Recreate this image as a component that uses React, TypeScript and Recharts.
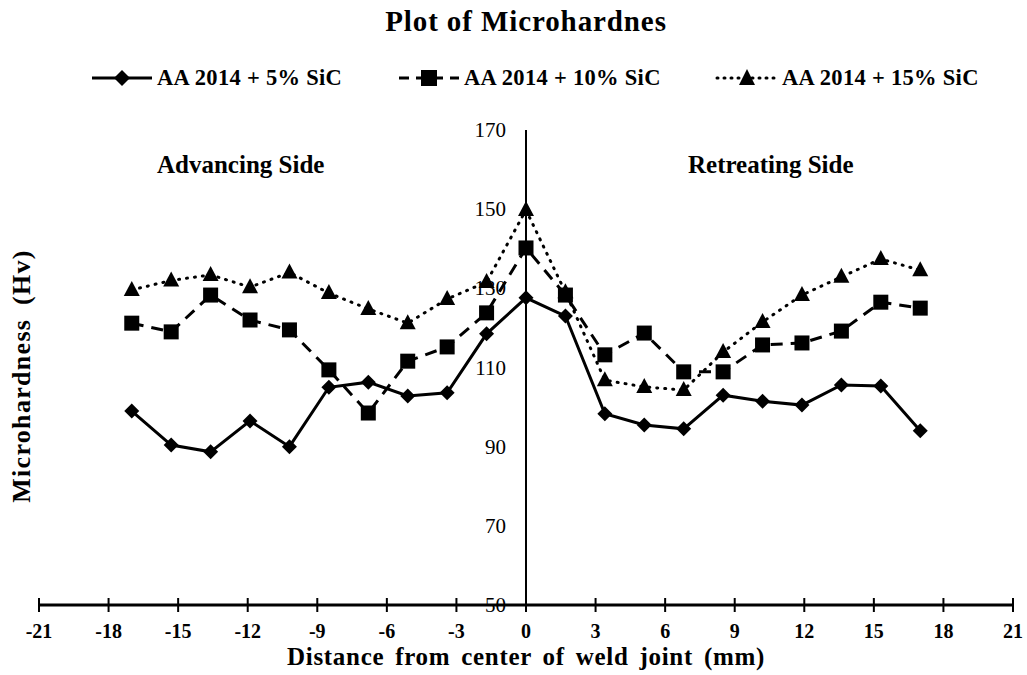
import React from "react";
import { LineChart, Line, XAxis, YAxis, ReferenceLine } from "recharts";

const distance = [-17, -15.3, -13.6, -11.9, -10.2, -8.5, -6.8, -5.1, -3.4, -1.7, 0, 1.7, 3.4, 5.1, 6.8, 8.5, 10.2, 11.9, 13.6, 15.3, 17];
const sic5 = [99, 90.4, 88.7, 96.5, 90, 105, 106.3, 102.8, 103.6, 118.5, 127.6, 123, 98.3, 95.5, 94.5, 103, 101.5, 100.5, 105.6, 105.3, 94];
const sic10 = [121.2, 119, 128.3, 122, 119.5, 109.4, 98.5, 111.6, 115.2, 123.8, 140.2, 128.3, 113.2, 118.7, 108.9, 108.9, 115.7, 116.2, 119.2, 126.5, 125];
const sic15 = [129.6, 132, 133.4, 130.3, 134, 128.8, 124.8, 121.2, 127.3, 131.6, 149.8, 129, 106.8, 105.1, 104.3, 113.9, 121.5, 128.3, 132.9, 137.4, 134.6];

const xTicks = [-21, -18, -15, -12, -9, -6, -3, 0, 3, 6, 9, 12, 15, 18, 21];
const yTicks = [50, 70, 90, 110, 130, 150, 170];

const W = 1027;
const H = 675;
const M = { top: 130, right: 14, bottom: 70, left: 38 };
const FONT = "'Liberation Serif', 'Times New Roman', serif";

const data = distance.map((d, i) => ({ d, s5: sic5[i], s10: sic10[i], s15: sic15[i] }));

const Diamond = (props: any) => {
  const { cx, cy } = props;
  if (cx == null || cy == null) return null;
  const r = 7.5;
  return <path key={props.key} d={`M${cx},${cy - r}L${cx + r},${cy}L${cx},${cy + r}L${cx - r},${cy}Z`} fill="#000" />;
};
const Square = (props: any) => {
  const { cx, cy } = props;
  if (cx == null || cy == null) return null;
  return <rect key={props.key} x={cx - 7.5} y={cy - 7.5} width={15} height={15} fill="#000" />;
};
const Triangle = (props: any) => {
  const { cx, cy } = props;
  if (cx == null || cy == null) return null;
  return <path key={props.key} d={`M${cx},${cy - 9}L${cx + 8},${cy + 6}L${cx - 8},${cy + 6}Z`} fill="#000" />;
};

const XTick = (props: any) => {
  const { x, y, payload } = props;
  return (
    <g>
      <line x1={x} x2={x} y1={y - 7} y2={y + 7} stroke="#000" strokeWidth={2} />
      <text x={x} y={y + 33} textAnchor="middle" fontFamily={FONT} fontWeight="bold" fontSize={20} fill="#000">
        {payload.value}
      </text>
    </g>
  );
};

// y labels sit beside the vertical axis drawn at x = 0
const plotW = W - M.left - 1 - M.right;
const zeroX = M.left + 1 + plotW / 2;
const YTick = (props: any) => {
  const { y, payload } = props;
  return (
    <text x={zeroX - 20} y={y + 7} textAnchor="end" fontFamily={FONT} fontSize={21} fill="#000">
      {payload.value}
    </text>
  );
};

const legendItems = [
  { label: "AA 2014 + 5% SiC", dash: undefined, marker: "diamond", x: 90 },
  { label: "AA 2014 + 10% SiC", dash: "10 7", marker: "square", x: 397 },
  { label: "AA 2014 + 15% SiC", dash: "1 6", marker: "triangle", x: 715 },
];

function LegendSample({ dash, marker }: { dash?: string; marker: string }) {
  return (
    <svg width={64} height={20} style={{ display: "block" }}>
      <line x1={2} x2={62} y1={10} y2={10} stroke="#000" strokeWidth={3} strokeDasharray={dash} strokeLinecap={dash === "1 6" ? "round" : "butt"} />
      {marker === "diamond" && <path d="M32,2L40,10L32,18L24,10Z" fill="#000" />}
      {marker === "square" && <rect x={24} y={2} width={16} height={16} fill="#000" />}
      {marker === "triangle" && <path d="M32,1L40,17L24,17Z" fill="#000" />}
    </svg>
  );
}

const abs = (x: number, y: number, extra: React.CSSProperties = {}): React.CSSProperties => ({
  position: "absolute",
  left: x,
  top: y,
  fontFamily: FONT,
  fontWeight: "bold",
  color: "#000",
  whiteSpace: "nowrap",
  lineHeight: 1.15,
  ...extra,
});

export default function App() {
  return (
    <div style={{ position: "absolute", left: 0, top: 0, width: W, height: H, background: "#fff" }}>
      <LineChart width={W} height={H} data={data} margin={{ top: M.top, right: M.right, bottom: 0, left: M.left }}>
        <XAxis
          dataKey="d"
          type="number"
          domain={[-21, 21]}
          ticks={xTicks}
          axisLine={{ stroke: "#000", strokeWidth: 3 }}
          tickLine={false}
          tickSize={0}
          tickMargin={0}
          height={M.bottom}
          tick={<XTick />}
          interval={0}
        />
        <YAxis
          type="number"
          domain={[50, 170]}
          ticks={yTicks}
          width={1}
          axisLine={false}
          tickLine={false}
          tick={<YTick />}
          interval={0}
        />
        <ReferenceLine x={0} stroke="#000" strokeWidth={2} />
        <Line dataKey="s15" stroke="#000" strokeWidth={3} strokeDasharray="1 7" strokeLinecap="round" dot={<Triangle />} activeDot={false} isAnimationActive={false} />
        <Line dataKey="s10" stroke="#000" strokeWidth={3} strokeDasharray="12 8" dot={<Square />} activeDot={false} isAnimationActive={false} />
        <Line dataKey="s5" stroke="#000" strokeWidth={3} dot={<Diamond />} activeDot={false} isAnimationActive={false} />
      </LineChart>

      <div style={abs(zeroX, 5, { fontSize: 29, letterSpacing: 0.9, transform: "translateX(-50%)" })}>Plot of Microhardnes</div>

      {legendItems.map((it) => (
        <div key={it.label} style={{ position: "absolute", top: 66, left: it.x, display: "flex", alignItems: "center" }}>
          <LegendSample dash={it.dash} marker={it.marker} />
          <span style={{ fontFamily: FONT, fontWeight: "bold", fontSize: 22.5, letterSpacing: 0.3, marginLeft: 3, lineHeight: "24px" }}>{it.label}</span>
        </div>
      ))}

      <div style={abs(157, 151, { fontSize: 25 })}>Advancing Side</div>
      <div style={abs(688, 151, { fontSize: 25 })}>Retreating Side</div>

      <div style={abs(zeroX, 644, { fontSize: 25, lineHeight: 1, letterSpacing: 0.7, wordSpacing: 4, transform: "translateX(-50%)" })}>
        Distance from center of weld joint (mm)
      </div>
      <div
        style={abs(22, 376, {
          fontSize: 26,
          lineHeight: 1,
          letterSpacing: 1.3,
          wordSpacing: 6,
          transform: "translate(-50%, -50%) rotate(-90deg)",
        })}
      >
        Microhardness (Hv)
      </div>
    </div>
  );
}
